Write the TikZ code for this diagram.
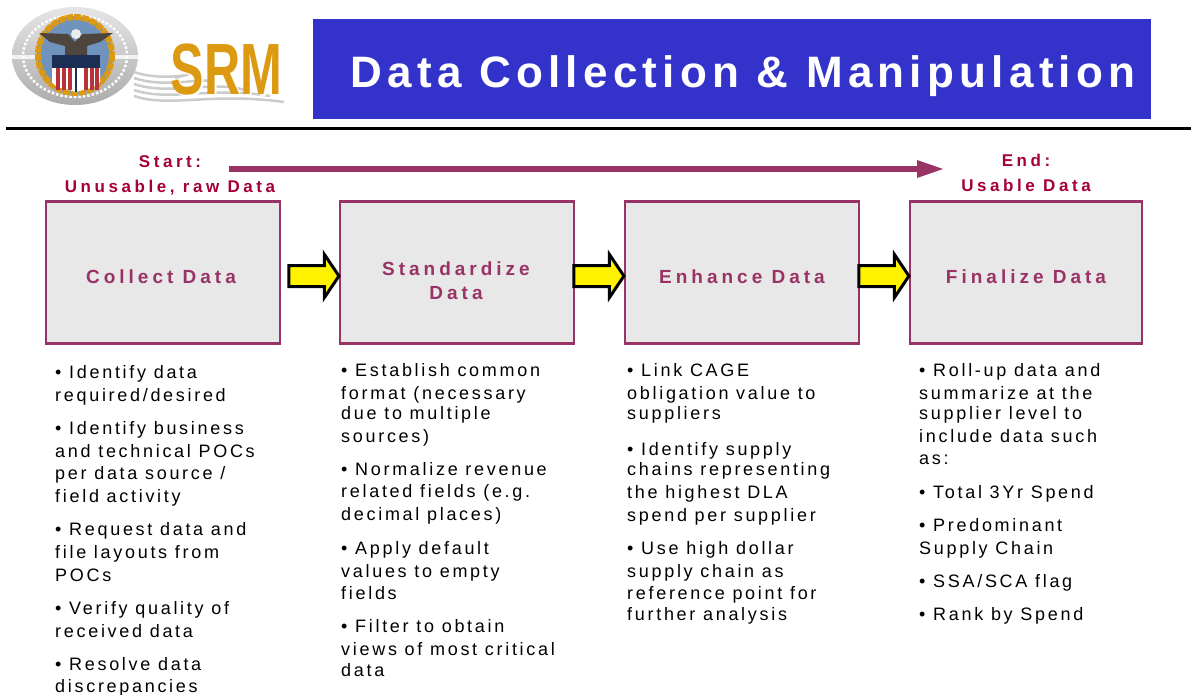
\documentclass[tikz,border=0pt]{standalone}
\usepackage{fontspec}
\setmainfont{Liberation Sans}
\newfontfamily\spacedfont[LetterSpace=15]{Liberation Sans}
\newfontfamily\headfont[LetterSpace=21,Ligatures=NoCommon]{Liberation Sans}
\newfontfamily\titlefont[LetterSpace=12]{Liberation Sans}
\usetikzlibrary{shapes.arrows}
\definecolor{plum}{HTML}{993366}
\definecolor{wine}{HTML}{A50039}
\definecolor{titleblue}{HTML}{3333CC}
\definecolor{boxgray}{HTML}{E8E8E8}
\definecolor{gold}{HTML}{DC9A12}
\definecolor{sealblue}{HTML}{6F93BC}
\definecolor{sealnavy}{HTML}{1B2F55}
\definecolor{sealred}{HTML}{B8323A}
\definecolor{eaglebrown}{HTML}{4E453F}
\tikzset{
  stepbox/.style={draw=plum, fill=boxgray, line width=2.5pt},
  steplabel/.style={text=plum, font=\headfont\fontsize{19}{24}\selectfont\bfseries, align=center},
  endlabel/.style={text=wine, font=\headfont\fontsize{17}{25}\selectfont\bfseries, align=center},
  blockarrow/.style={single arrow, draw=black, fill=yellow, line width=3pt, minimum height=50pt,
    minimum width=42pt, single arrow head extend=11pt, single arrow tip angle=112,
    inner xsep=0pt, inner ysep=9pt},
  bodyline/.style={anchor=west, font=\spacedfont\fontsize{18}{20}\selectfont, text=black,
    text height=12pt, text depth=4pt, inner sep=0pt, yshift=-2pt}
}
\begin{document}
\begin{tikzpicture}[x={(1pt,0pt)}, y={(0pt,-1pt)}]
    \useasboundingbox (0,0) rectangle (1191,695);
    \fill[white] (0,0) rectangle (1191,695);

    % Title banner
    \node[fill=titleblue, minimum width=838pt, minimum height=100pt, inner sep=0pt] (banner) at (732,69) {};
    \node[text=white, font=\titlefont\fontsize{44}{50}\selectfont\bfseries] (title) at (743,76) {Data Collection \& Manipulation};
    \draw[line width=3pt] (6,128.5) -- (1191,128.5);

    % Seal
    \shade[top color=gray!20, bottom color=gray!65] (75,56) ellipse (63 and 49);
    \fill[white!90!gray] (12,55.5) rectangle (138,59);
    \draw[white, line width=2.5pt, dotted] (75,56) ellipse (52 and 41);
    \fill[sealblue] (75,55) ellipse (38 and 39);
    \draw[gold, line width=6pt, dash pattern=on 7pt off 1pt] (75,55) ellipse (37 and 38);
    \fill[eaglebrown] (39,33) -- (68,34) -- (75,42) -- (83,34) -- (113,33) -- (100,42) -- (87,46) -- (87,55) -- (65,55) -- (65,46) -- (50,42) -- cycle;
    \fill[white!85!gray] (76,34) circle (5);
    \fill[white] (52,68) -- (100,68) -- (100,82) .. controls (97,88) and (85,89) .. (76,92) .. controls (67,89) and (55,88) .. (52,82) -- cycle;
    \foreach \i in {56,62,68,84,90,95} {
      \fill[sealred] (\i,68) rectangle (\i+3.5,90);
    }
    \fill[sealnavy] (75,68) rectangle (76.5,92);
    \fill[sealnavy] (52,55) rectangle (100,68);

    % Shadow streaks under SRM
    \foreach \i/\j in {72/175, 78/215, 84/245, 90/270, 96/284} {
      \draw[gray!40, line width=2.5pt] (134,\i) .. controls (170,\i+12) and (210,\i-4) .. (\j,\i+6);
    }
    \node[text=white, font=\fontsize{66}{66}\selectfont\bfseries, xscale=0.76, yscale=1.1] (srmback) at (228.5,72) {SRM};
    \node[text=gold, font=\fontsize{66}{66}\selectfont\bfseries, xscale=0.76, yscale=1.1] (srm) at (226.5,70) {SRM};

    % Start and end labels
    \node[endlabel] (start) at (170,175) {Start:\\Unusable, raw Data};
    \node[endlabel] (finish) at (1026,173) {End:\\Usable Data};
    \coordinate (startarrow) at (229,169);
    \coordinate (endarrow) at (943,169);
    \draw[plum, line width=6pt] (startarrow) -- (920,169);
    \fill[plum] (endarrow) -- (917,160) -- (917,178) -- cycle;

    % Step boxes
    \node[stepbox, minimum width=234pt, minimum height=142pt] (collect) at (163,272.5) {};
    \node[stepbox, minimum width=234pt, minimum height=142pt] (standardize) at (457,272.5) {};
    \node[stepbox, minimum width=234pt, minimum height=142pt] (enhance) at (742,272.5) {};
    \node[stepbox, minimum width=232pt, minimum height=142pt] (finalize) at (1026,272.5) {};
    \node[steplabel] at ([xshift=-2pt,yshift=-4pt]collect) {Collect Data};
    \node[steplabel] at ([xshift=-1pt,yshift=-8pt]standardize) {Standardize\\Data};
    \node[steplabel] at ([yshift=-4pt]enhance) {Enhance Data};
    \node[steplabel] at ([yshift=-4pt]finalize) {Finalize Data};

    % Block arrows
    \node[blockarrow, anchor=tip] (arrowa) at ([xshift=2pt,yshift=-3.5pt]standardize.west) {};
    \node[blockarrow, anchor=tip] (arrowb) at ([xshift=2pt,yshift=-3.5pt]enhance.west) {};
    \node[blockarrow, anchor=tip] (arrowc) at ([xshift=2pt,yshift=-3.5pt]finalize.west) {};

    % Bullet text of each step
    \foreach \ty/\tx in {372/{• Identify data}, 395/{required/desired}, 428/{• Identify business},
        451/{and technical POCs}, 473/{per data source /}, 496/{field activity},
        529/{• Request data and}, 552/{file layouts from}, 575/{POCs}, 608/{• Verify quality of},
        631/{received data}, 664/{• Resolve data}, 686/{discrepancies}} {
      \node[bodyline] at (55,\ty) {\tx};
    }
    \foreach \ty/\tx in {370/{• Establish common}, 393/{format (necessary}, 413/{due to multiple},
        436/{sources)}, 469/{• Normalize revenue}, 491/{related fields (e.g.}, 514/{decimal places)},
        548/{• Apply default}, 571/{values to empty}, 593/{fields}, 626/{• Filter to obtain},
        649/{views of most critical}, 670/{data}} {
      \node[bodyline] at (341,\ty) {\tx};
    }
    \foreach \ty/\tx in {370/{• Link CAGE}, 393/{obligation value to}, 413/{suppliers},
        449/{• Identify supply}, 469/{chains representing}, 492/{the highest DLA},
        515/{spend per supplier}, 548/{• Use high dollar}, 571/{supply chain as},
        593/{reference point for}, 614/{further analysis}} {
      \node[bodyline] at (627,\ty) {\tx};
    }
    \foreach \ty/\tx in {370/{• Roll-up data and}, 393/{summarize at the}, 413/{supplier level to},
        436/{include data such}, 458/{as:}, 492/{• Total 3Yr Spend}, 525/{• Predominant},
        548/{Supply Chain}, 581/{• SSA/SCA flag}, 614/{• Rank by Spend}} {
      \node[bodyline] at (919,\ty) {\tx};
    }

\end{tikzpicture}
\end{document}
